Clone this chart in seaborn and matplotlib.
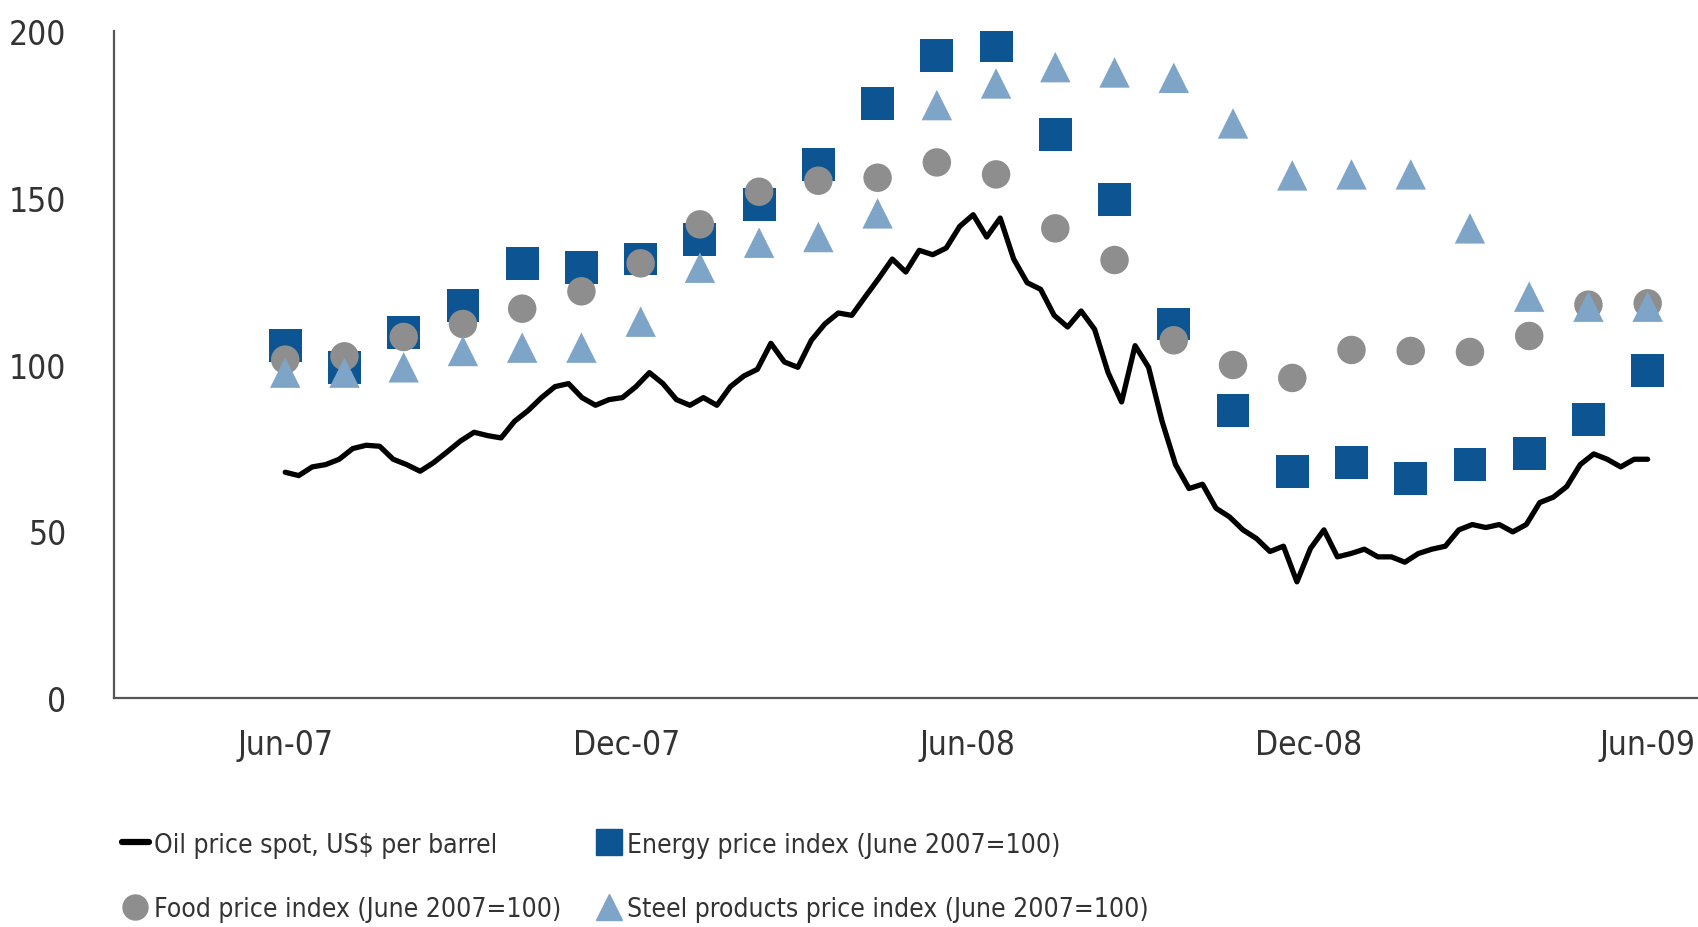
import numpy as np
import pandas as pd
import matplotlib
matplotlib.use("Agg")
import matplotlib.pyplot as plt
from matplotlib.lines import Line2D
import seaborn as sns

# ==========================
# Data
# ==========================
# monthly indices, June 2007 = 100, 24 observations spread Jun-07 .. Jun-09
energy_index = [105.7, 99.2, 109.6, 117.8, 130.4, 129.1, 131.7, 137.6, 148.0, 160.1,
                178.3, 192.9, 195.8, 169.2, 149.6, 112.2, 86.2, 68.0, 70.6, 65.7,
                69.9, 73.2, 83.6, 98.2]
food_index = [101.5, 102.5, 108.3, 112.2, 116.8, 122.0, 130.4, 142.1, 151.9, 155.2,
              156.1, 160.7, 157.1, 140.9, 131.4, 107.3, 99.9, 96.0, 104.4, 104.1,
              103.8, 108.6, 118.0, 118.4]
steel_index = [97.6, 97.6, 99.2, 104.1, 105.1, 105.1, 112.9, 129.1, 136.6, 138.3,
               145.4, 177.9, 184.4, 189.3, 187.7, 186.1, 172.4, 156.8, 157.1, 157.1,
               140.9, 120.4, 117.4, 117.4]

# oil price spot, US$ per barrel, roughly weekly Jun-07 .. Jun-09
oil_price = [67.7, 66.7, 69.3, 70.0, 71.6, 74.8, 75.8, 75.5, 71.6, 70.0,
             68.0, 70.6, 73.8, 77.1, 79.7, 78.7, 78.0, 83.0, 86.2, 90.1,
             93.4, 94.3, 90.1, 87.8, 89.5, 90.1, 93.4, 97.6, 94.3, 89.5,
             87.8, 90.1, 87.8, 93.4, 96.6, 98.6, 106.4, 100.8, 99.2, 107.3,
             112.2, 115.5, 114.8, 120.4, 125.9, 131.7, 127.8, 134.3, 133.0, 135.0,
             141.5, 145.0, 138.3, 144.0, 131.7, 124.6, 122.6, 114.8, 111.3, 116.1,
             110.6, 97.6, 88.8, 105.7, 99.2, 83.0, 70.0, 62.8, 64.1, 56.9,
             54.3, 50.4, 47.8, 43.9, 45.5, 34.8, 44.8, 50.4, 42.3, 43.3,
             44.6, 42.3, 42.3, 40.7, 43.3, 44.6, 45.5, 50.4, 52.0, 51.1,
             52.0, 49.8, 52.0, 58.6, 60.2, 63.4, 70.0, 73.2, 71.6, 69.3,
             71.6, 71.6]

tick_dates = ["2007-06-01", "2007-12-01", "2008-06-01", "2008-12-01", "2009-06-01"]
tick_labels = ["Jun-07", "Dec-07", "Jun-08", "Dec-08", "Jun-09"]

idx = pd.DataFrame({
    "date": pd.date_range("2007-06-01", "2009-06-01", periods=len(energy_index)),
    "energy": energy_index,
    "food": food_index,
    "steel": steel_index,
})
oil = pd.DataFrame({
    "date": pd.date_range("2007-06-01", "2009-06-01", periods=len(oil_price)),
    "oil": oil_price,
})

# ==========================
# Style
# ==========================
sns.set_style("white")
plt.rcParams["font.family"] = ["DejaVu Sans"]
plt.rcParams["font.stretch"] = "condensed"

c_energy = "#0d5592"
c_food = "#8e8e8e"
c_steel = "#7ea5c8"
c_axis = "#555555"

fig = plt.figure(figsize=(16.98, 9.28), dpi=100)
ax = fig.add_axes([0.067, 0.247, 0.933, 0.718])

sns.scatterplot(data=idx, x="date", y="energy", marker="s", s=560, color=c_energy,
                edgecolor="none", ax=ax, zorder=2)
sns.scatterplot(data=idx, x="date", y="food", marker="o", s=420, color=c_food,
                edgecolor="none", ax=ax, zorder=3)
sns.scatterplot(data=idx, x="date", y="steel", marker="^", s=480, color=c_steel,
                edgecolor="none", ax=ax, zorder=4)
sns.lineplot(data=oil, x="date", y="oil", color="black", linewidth=3.8, ax=ax, zorder=5)

ax.set_ylim(0, 200)
ax.set_xlim(pd.Timestamp("2007-03-01"), pd.Timestamp("2009-06-28"))
ax.set_yticks([0, 50, 100, 150, 200])
ax.set_xticks(pd.to_datetime(tick_dates))
ax.set_xticklabels(tick_labels)
ax.set_xlabel("")
ax.set_ylabel("")

for side in ["top", "right"]:
    ax.spines[side].set_visible(False)
for side in ["left", "bottom"]:
    ax.spines[side].set_color(c_axis)
    ax.spines[side].set_linewidth(1.6)

ax.tick_params(axis="both", colors=c_axis, labelcolor="#333333", labelsize=24,
               length=8, width=1.4, direction="out")
ax.tick_params(axis="y", pad=26)
ax.tick_params(axis="x", pad=14)
ax.grid(False)

# ==========================
# Legend
# ==========================
handles = [
    Line2D([], [], color="black", linewidth=4.5, label="Oil price spot, US$ per barrel"),
    Line2D([], [], marker="o", linestyle="none", markersize=18, color=c_food,
           label="Food price index (June 2007=100)"),
    Line2D([], [], marker="s", linestyle="none", markersize=19, color=c_energy,
           label="Energy price index (June 2007=100)"),
    Line2D([], [], marker="^", linestyle="none", markersize=19, color=c_steel,
           label="Steel products price index (June 2007=100)"),
]
fig.legend(handles=handles, ncol=2, loc="lower left", bbox_to_anchor=(0.058, -0.02),
           frameon=False, fontsize=19, handlelength=1.0, handletextpad=0.2,
           columnspacing=1.3, labelspacing=1.45, labelcolor="#333333")

fig.savefig("out.png", dpi=100)
